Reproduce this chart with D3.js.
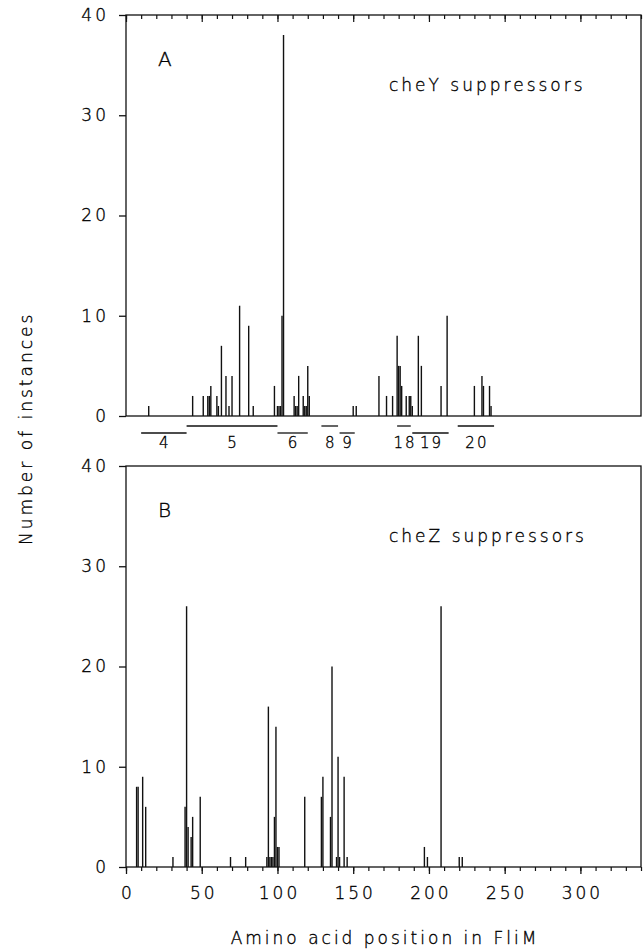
<!DOCTYPE html>
<html>
<head>
<meta charset="utf-8">
<script src="https://cdn.jsdelivr.net/npm/d3@7"></script>
<style>
body { margin: 0; background: #fff; }
svg text { font-family: "DejaVu Sans", sans-serif; font-weight: 200; fill: #000; stroke: #000; stroke-width: 0.35px; letter-spacing: 3px; }
</style>
</head>
<body>
<svg id="chart" width="644" height="949"></svg>
<script>
'use strict';

// panel A : cheY suppressors (position in FliM, number of instances)
const posA = [15, 44, 51, 54, 55, 56, 60, 61, 63, 66, 68, 70, 75, 81, 84, 98,
    100, 101, 102, 103, 104, 111, 112, 113, 114, 117, 118, 119, 120, 121,
    150, 152, 167, 172, 176, 179, 180, 181, 182, 185, 187, 188, 189, 193, 195,
    208, 212, 230, 235, 236, 240, 241];
const countA = [1, 2, 2, 2, 2, 3, 2, 1, 7, 4, 1, 4, 11, 9, 1, 3,
    1, 1, 1, 10, 38, 2, 1, 1, 4, 2, 1, 1, 5, 2,
    1, 1, 4, 2, 2, 8, 5, 5, 3, 2, 2, 2, 1, 8, 5,
    3, 10, 3, 4, 3, 3, 1];

// panel B : cheZ suppressors
const posB = [7, 8, 11, 13, 31, 39, 40, 41, 43, 44, 49, 69, 79,
    93, 94, 95, 96, 97, 98, 99, 100, 101, 118, 129, 130, 135, 136,
    139, 140, 141, 144, 146, 197, 199, 208, 220, 222];
const countB = [8, 8, 9, 6, 1, 6, 26, 4, 3, 5, 7, 1, 1,
    1, 16, 1, 1, 1, 5, 14, 2, 2, 7, 7, 9, 5, 20,
    1, 11, 1, 9, 1, 2, 1, 26, 1, 1];

// regions marked under panel A
const segLabel = ['4', '5', '6', '8', '9', '18', '19', '20'];
const segStart = [10, 40, 100, 129, 141, 179, 189, 219];
const segEnd = [40, 100, 120, 140, 151, 188, 213, 243];

const yTicks = [0, 10, 20, 30, 40];
const xTicks = [0, 50, 100, 150, 200, 250, 300];
const minorTicks = d3.range(0, 341, 10);

const left = 126, right = 641, panelH = 401;
const topA = 15, topB = 466;

const svg = d3.select('#chart');
const x = d3.scaleLinear().domain([0, 340]).range([left, right]);

function drawPanel(top, pos, counts, letter, title) {
    const y = d3.scaleLinear().domain([0, 40]).range([top + panelH, top]);
    const g = svg.append('g');

    g.selectAll('line.bar')
        .data(pos)
        .enter()
        .append('line')
        .attr('class', 'bar')
        .attr('x1', d => x(d))
        .attr('x2', d => x(d))
        .attr('y1', y(0))
        .attr('y2', (d, i) => y(counts[i]))
        .attr('stroke', '#111')
        .attr('stroke-width', 1.4);

    g.append('rect')
        .attr('x', left).attr('y', top)
        .attr('width', right - left).attr('height', panelH)
        .attr('fill', 'none').attr('stroke', '#111').attr('stroke-width', 1.3);

    const yAxis = g.append('g')
        .attr('transform', `translate(${left},0)`)
        .call(d3.axisLeft(y).tickValues(yTicks).tickSize(7).tickPadding(10).tickSizeOuter(0));
    yAxis.select('.domain').remove();
    yAxis.selectAll('line').attr('stroke', '#111').attr('stroke-width', 1.3);
    yAxis.selectAll('text').attr('font-size', 17).attr('fill', '#000')
        .attr('font-family', '"DejaVu Sans", sans-serif');

    g.append('text')
        .attr('x', 158).attr('y', top + 51)
        .attr('font-size', 20)
        .text(letter);
    g.append('text')
        .attr('x', 389).attr('y', top + 76)
        .attr('font-size', 17)
        .text(title);
    return y;
}

drawPanel(topA, posA, countA, 'A', 'cheY suppressors');
drawPanel(topB, posB, countB, 'B', 'cheZ suppressors');

// inward ticks along the top of panel A
function tickAxis(axis, top, values, size) {
    const a = svg.append('g')
        .attr('transform', `translate(0,${top})`)
        .call(axis(x).tickValues(values).tickSize(size).tickFormat(''));
    a.select('.domain').remove();
    a.selectAll('line').attr('stroke', '#111').attr('stroke-width', 1.2);
    return a;
}
tickAxis(d3.axisTop, topA, minorTicks, -4);
tickAxis(d3.axisTop, topA, xTicks, -7);

// outward ticks and labels along the bottom of panel B
tickAxis(d3.axisBottom, topB + panelH, minorTicks, 4);
const xAxis = svg.append('g')
    .attr('transform', `translate(0,${topB + panelH})`)
    .call(d3.axisBottom(x).tickValues(xTicks).tickSize(7).tickPadding(13));
xAxis.select('.domain').remove();
xAxis.selectAll('line').attr('stroke', '#111').attr('stroke-width', 1.3);
xAxis.selectAll('text').attr('font-size', 17).attr('fill', '#000')
    .attr('font-family', '"DejaVu Sans", sans-serif')
    .attr('dx', 1.5);

// region segments under panel A
const yBase = topA + panelH;
const seg = svg.append('g');
seg.selectAll('line')
    .data(segLabel)
    .enter()
    .append('line')
    .attr('x1', (d, i) => x(segStart[i]))
    .attr('x2', (d, i) => x(segEnd[i]))
    .attr('y1', (d, i) => yBase + (i % 2 ? 10 : 17))
    .attr('y2', (d, i) => yBase + (i % 2 ? 10 : 17))
    .attr('stroke', '#111')
    .attr('stroke-width', 1.3);
seg.selectAll('text')
    .data(segLabel)
    .enter()
    .append('text')
    .attr('x', (d, i) => x((segStart[i] + segEnd[i]) / 2) + 1)
    .attr('y', yBase + 32)
    .attr('text-anchor', 'middle')
    .attr('font-size', 15)
    .style('letter-spacing', '2px')
    .text(d => d);

// axis titles
svg.append('text')
    .attr('x', (left + right) / 2 + 1.5)
    .attr('y', 944)
    .attr('text-anchor', 'middle')
    .attr('font-size', 17)
    .text('Amino acid position in FliM');

svg.append('text')
    .attr('transform', 'translate(32,545) rotate(-90)')
    .attr('font-size', 17)
    .text('Number of instances');
</script>
</body>
</html>
